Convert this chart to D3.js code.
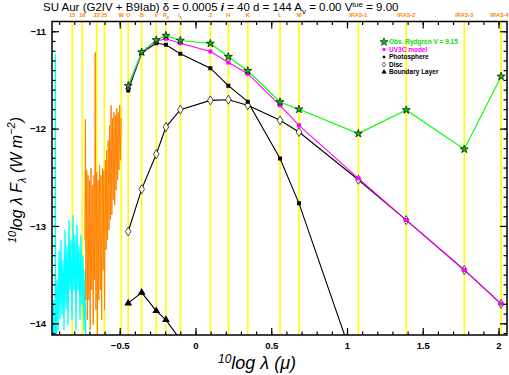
<!DOCTYPE html>
<html lang="en">
<head>
  <meta charset="UTF-8">
  <title>SU Aur SED</title>
  <style>
    body { margin: 0; background: #fff; }
    text { font-family: "Liberation Sans", Arial, sans-serif; }
  </style>
</head>
<body>
  <script src="https://d3js.org/d3.v7.min.js"></script>
  <script>
    // photometric bands (log lambda in micron)
    const bandNames = ['15', '18', '22', '25', 'W', 'U', 'B', 'V', 'R', 'I', 'J', 'H', 'K', 'L', 'M', 'IRAS-1', 'IRAS-2', 'IRAS-3', 'IRAS-4']
    const bandSub = ['', '', '', '', '', '', '', '', 'c', 'c', '', '', '', '', '', '', '', '', '']
    const bandLog = [-0.813, -0.747, -0.652, -0.602, -0.490, -0.444, -0.355, -0.259, -0.195, -0.100, 0.098, 0.217, 0.345, 0.558, 0.683, 1.075, 1.391, 1.774, 2.017]

    // series sampled at U B V Rc Ic J H K L M IRAS1-4
    const obsLog = [-0.444, -0.355, -0.259, -0.195, -0.100, 0.098, 0.217, 0.345, 0.558, 0.683, 1.075, 1.391, 1.774, 2.017]
    const obsFlux = [-11.56, -11.215, -11.09, -11.045, -11.095, -11.126, -11.262, -11.406, -11.727, -11.802, -12.051, -11.809, -12.212, -11.464]
    const modelFlux = [-11.577, -11.218, -11.102, -11.078, -11.123, -11.208, -11.321, -11.436, -11.761, -11.966, -12.512, -12.940, -13.452, -13.800]
    const photoFlux = [-11.608, -11.221, -11.123, -11.139, -11.232, -11.379, -11.559, -11.723, -12.307, -12.768, -14.53, -15.9, -17.6, -18.6]
    const discFlux = [-13.057, -12.622, -12.263, -11.984, -11.805, -11.710, -11.703, -11.761, -11.915, -12.035, -12.525, -12.940, -13.452, -13.800]
    const blLog = [-0.444, -0.355, -0.259, -0.195, -0.100, 0.098]
    const blFlux = [-13.793, -13.684, -13.872, -13.964, -14.169, -14.70]

    // IUE short wavelength spectrum
    const cyanLog = [-0.944, -0.937, -0.930, -0.9255, -0.925, -0.924, -0.9235, -0.920, -0.914, -0.907, -0.900, -0.894, -0.887, -0.881, -0.874, -0.868, -0.861, -0.854, -0.848, -0.841, -0.835, -0.828, -0.822, -0.815, -0.808, -0.802, -0.795, -0.789, -0.782, -0.775, -0.769, -0.762, -0.756, -0.749, -0.742, -0.736, -0.729, -0.723]
    const cyanFlux = [-14.3, -13.76, -14.3, -14.0, -11.30, -11.23, -14.0, -14.3, -13.55, -14.07, -13.25, -13.96, -13.14, -13.91, -13.35, -14.07, -13.04, -13.86, -13.20, -14.02, -12.94, -13.66, -13.14, -13.96, -12.89, -13.66, -13.09, -14.07, -12.99, -13.66, -13.20, -13.96, -13.09, -13.81, -13.30, -14.07, -13.45, -14.3]
    // IUE long wavelength spectrum
    const orangeLog = [-0.730, -0.727, -0.723, -0.718, -0.714, -0.709, -0.704, -0.699, -0.695, -0.690, -0.685, -0.680, -0.675, -0.670, -0.666, -0.662, -0.657, -0.652, -0.647, -0.643, -0.638, -0.633, -0.628, -0.624, -0.619, -0.614, -0.609, -0.605, -0.600, -0.595, -0.590, -0.586, -0.581, -0.576, -0.571, -0.567, -0.562, -0.557, -0.552, -0.548, -0.543, -0.538, -0.533, -0.529, -0.524, -0.519, -0.514, -0.510, -0.505, -0.500, -0.495, -0.490]
    const orangeFlux = [-13.144, -11.905, -13.759, -12.427, -13.964, -12.479, -13.759, -12.530, -14.067, -12.407, -13.657, -12.581, -14.015, -12.479, -13.554, -11.218, -13.861, -12.448, -14.2, -12.530, -13.759, -12.376, -13.657, -12.479, -13.964, -12.407, -13.452, -12.427, -13.861, -12.325, -13.247, -12.222, -13.144, -12.120, -13.042, -11.966, -12.939, -11.761, -12.888, -11.894, -12.734, -11.833, -12.786, -11.864, -12.632, -11.792, -12.530, -11.833, -12.427, -11.761, -12.325, -11.894]

    const legendLabels = ['Obs. Rydgren V = 9.15', 'UV3C model', 'Photosphere', 'Disc', 'Boundary Layer']

    const width = 509, height = 375
    const plot = { left: 52, right: 507, top: 21.5, bottom: 335 }

    const x = d3.scaleLinear().domain([-0.947, 2.056]).range([plot.left, plot.right])
    const y = d3.scaleLinear().domain([-14.12, -10.9]).range([plot.bottom, plot.top])

    const svg = d3.select('body').append('svg')
      .attr('width', width)
      .attr('height', height)

    svg.append('clipPath').attr('id', 'clip')
      .append('rect')
      .attr('x', plot.left).attr('y', plot.top)
      .attr('width', plot.right - plot.left).attr('height', plot.bottom - plot.top)

    const g = svg.append('g').attr('clip-path', 'url(#clip)')

    // band lines
    g.selectAll('line.band')
      .data(bandLog)
      .enter()
      .append('line')
      .attr('class', 'band')
      .attr('x1', d => x(d)).attr('x2', d => x(d))
      .attr('y1', plot.top).attr('y2', plot.bottom)
      .attr('stroke', '#ffff00')
      .attr('stroke-width', 1.6)

    const spec = d3.line().x(d => x(d[0])).y(d => y(d[1]))
    g.append('path')
      .datum(d3.zip(cyanLog, cyanFlux))
      .attr('d', spec)
      .attr('fill', 'none').attr('stroke', '#00ffff').attr('stroke-width', 1.3)
    g.append('path')
      .datum(d3.zip(orangeLog, orangeFlux))
      .attr('d', spec)
      .attr('fill', 'none').attr('stroke', '#ff8000').attr('stroke-width', 1)

    const series = [
      { lx: obsLog, ly: discFlux, color: '#000' },
      { lx: obsLog, ly: photoFlux, color: '#000' },
      { lx: blLog, ly: blFlux, color: '#000' },
      { lx: obsLog, ly: modelFlux, color: '#ff00ff' },
      { lx: obsLog, ly: obsFlux, color: '#00ff00' },
    ]
    series.forEach(s => {
      g.append('path')
        .datum(d3.zip(s.lx, s.ly))
        .attr('d', spec)
        .attr('fill', 'none')
        .attr('stroke', s.color)
        .attr('stroke-width', 1.1)
    })

    const diamond = 'M0,-4.5L2.8,0L0,4.5L-2.8,0Z'

    function drawMarks(lx, ly, path, fill, stroke) {
      g.selectAll(null)
        .data(d3.zip(lx, ly))
        .enter()
        .append('path')
        .attr('transform', d => `translate(${x(d[0])},${y(d[1])})`)
        .attr('d', path)
        .attr('fill', fill)
        .attr('stroke', stroke)
        .attr('stroke-width', 0.7)
    }
    drawMarks(obsLog, discFlux, diamond, '#ffffe0', '#000')
    drawMarks(obsLog, photoFlux, d3.symbol(d3.symbolSquare, 16)(), '#000', 'none')
    drawMarks(blLog, blFlux, d3.symbol(d3.symbolTriangle, 26)(), '#000', 'none')
    drawMarks(obsLog, modelFlux, d3.symbol(d3.symbolSquare, 16)(), '#ff00ff', 'none')
    drawMarks(obsLog, obsFlux, d3.symbol(d3.symbolStar, 20)(), '#00cc00', '#000')

    // axes
    const fmt = d => d3.format('')(d).replace('-', '\u2212')
    const xMajor = [-0.5, 0, 0.5, 1, 1.5, 2]
    const xMinor = d3.range(-9, 21).map(d => d / 10)
    const yMajor = [-11, -12, -13, -14]
    const yMinor = d3.range(-141, -109).map(d => d / 10)

    function addAxis(axis, tx, ty, labels) {
      const a = svg.append('g')
        .attr('transform', `translate(${tx},${ty})`)
        .call(axis)
      a.select('.domain').remove()
      a.selectAll('line').attr('stroke', '#000').attr('stroke-width', 1.2)
      if (!labels) a.selectAll('text').remove()
      return a
    }

    addAxis(d3.axisBottom(x).tickValues(xMinor).tickSize(-3.5), 0, plot.bottom, false)
    addAxis(d3.axisTop(x).tickValues(xMinor).tickSize(-3.5), 0, plot.top, false)
    addAxis(d3.axisTop(x).tickValues(xMajor).tickSize(-7), 0, plot.top, false)
    addAxis(d3.axisLeft(y).tickValues(yMinor).tickSize(-3.5), plot.left, 0, false)
    addAxis(d3.axisRight(y).tickValues(yMinor).tickSize(-3.5), plot.right, 0, false)
    addAxis(d3.axisRight(y).tickValues(yMajor).tickSize(-7), plot.right, 0, false)

    const xa = addAxis(d3.axisBottom(x).tickValues(xMajor).tickSize(-7).tickPadding(7).tickFormat(fmt), 0, plot.bottom, true)
    xa.selectAll('text')
      .attr('font-size', 9.5).attr('font-weight', 'bold').attr('fill', '#000')
    const ya = addAxis(d3.axisLeft(y).tickValues(yMajor).tickSize(-7).tickPadding(6).tickFormat(fmt), plot.left, 0, true)
    ya.selectAll('text')
      .attr('font-size', 9.5).attr('font-weight', 'bold').attr('fill', '#000')

    svg.append('rect')
      .attr('x', plot.left).attr('y', plot.top)
      .attr('width', plot.right - plot.left).attr('height', plot.bottom - plot.top)
      .attr('fill', 'none').attr('stroke', '#000').attr('stroke-width', 1.5)

    // band labels
    const bl = svg.selectAll('text.bandlab')
      .data(bandNames)
      .enter()
      .append('text')
      .attr('class', 'bandlab')
      .attr('x', (d, i) => i === bandNames.length - 1 ? 508.5 : x(bandLog[i]))
      .attr('y', 17)
      .attr('text-anchor', (d, i) => i === bandNames.length - 1 ? 'end' : 'middle')
      .attr('font-size', 5.5)
      .attr('font-weight', 'bold')
      .attr('fill', '#ff8000')
    bl.append('tspan').text(d => d)
    bl.append('tspan')
      .attr('dy', 2)
      .attr('font-size', 4.5)
      .text((d, i) => bandSub[i])

    // title
    const title = svg.append('text')
      .attr('x', 43).attr('y', 11)
      .attr('font-size', 11.5)
      .attr('fill', '#000')
    title.append('tspan').text('SU Aur (G2IV + B9Iab) \u03b4 = 0.0005 ')
    title.append('tspan').attr('font-style', 'italic').attr('font-weight', 'bold').text('i')
    title.append('tspan').text(' = 40 d = 144 A')
    title.append('tspan').attr('font-size', 8).attr('dy', 3).text('v')
    title.append('tspan').attr('dy', -3).text(' = 0.00 V')
    title.append('tspan').attr('font-size', 8).attr('dy', -4).text('iue')
    title.append('tspan').attr('dy', 4).text(' = 9.00')

    // legend
    const leg = svg.append('g').attr('transform', 'translate(384,42)')
    const legColors = ['#00cc00', '#ff00ff', '#000', '#000', '#000']
    const legShapes = [d3.symbol(d3.symbolStar, 20)(), d3.symbol(d3.symbolSquare, 8)(), d3.symbol(d3.symbolSquare, 6)(), 'M0,-2.5L1.7,0L0,2.5L-1.7,0Z', d3.symbol(d3.symbolTriangle, 12)()]
    const legText = ['#00dd00', '#ff00ff', '#000', '#000', '#000']
    legendLabels.forEach((t, i) => {
      leg.append('path')
        .attr('transform', `translate(0,${i * 7.5})`)
        .attr('d', legShapes[i])
        .attr('fill', i === 3 ? '#fff' : legColors[i])
        .attr('stroke', i === 0 || i === 3 ? '#000' : 'none')
        .attr('stroke-width', 0.6)
      leg.append('text')
        .attr('x', 5).attr('y', i * 7.5 + 2.3)
        .attr('font-size', 6.5)
        .attr('font-weight', 'bold')
        .attr('fill', legText[i])
        .text(t)
    })

    // axis titles
    const xt = svg.append('text')
      .attr('x', 257).attr('y', 369)
      .attr('text-anchor', 'middle')
      .attr('font-size', 18)
      .attr('font-style', 'italic')
      .attr('fill', '#000')
    xt.append('tspan').attr('font-size', 12).attr('dy', -6).text('10')
    xt.append('tspan').attr('dy', 6).text('log \u03bb (\u03bc)')

    const yt = svg.append('text')
      .attr('transform', 'translate(22,180) rotate(-90)')
      .attr('text-anchor', 'middle')
      .attr('font-size', 16)
      .attr('font-style', 'italic')
      .attr('fill', '#000')
    yt.append('tspan').attr('font-size', 11).attr('dy', -6).text('10')
    yt.append('tspan').attr('dy', 6).text('log \u03bb F')
    yt.append('tspan').attr('font-size', 11).attr('dy', 4).text('\u03bb')
    yt.append('tspan').attr('dy', -4).text(' (W m')
    yt.append('tspan').attr('font-size', 11).attr('dy', -7).text('\u22122')
    yt.append('tspan').attr('dy', 7).text(')')
  </script>
</body>
</html>
